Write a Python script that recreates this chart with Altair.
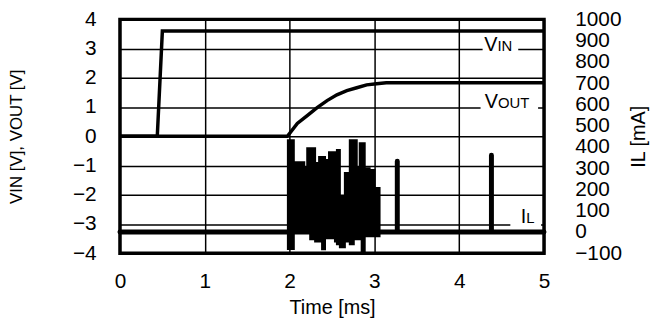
import altair as alt
import pandas as pd

# ---- data ----
vin_t = [0, 0.44, 0.50, 5]
vin_v = [0, 0, 3.6, 3.6]

vout_t = [0, 1.974, 2.091, 2.208, 2.325, 2.442, 2.558, 2.675, 2.792, 2.909, 3.026, 3.14, 5]
vout_v = [0, 0, 0.44, 0.71, 0.98, 1.22, 1.42, 1.56, 1.66, 1.76, 1.80, 1.83, 1.83]

burst_t = [1.980, 2.050, 2.126, 2.173, 2.208, 2.243, 2.301, 2.348, 2.383, 2.418, 2.465, 2.535,
           2.558, 2.593, 2.652, 2.710, 2.757, 2.792, 2.827, 2.850, 2.886, 2.944, 3.002, 3.061]
burst_top = [431, 328, 328, 305, 394, 394, 324, 352, 352, 338, 375, 375,
             385, 166, 277, 431, 431, 305, 417, 417, 300, 291, 207, 0]
burst_bot = [-80, 0, 0, 0, 0, -35, -45, -45, -82, -30, -30, -45,
             -58, -72, -45, -58, -35, -35, -35, -90, -20, -20, -20, 0]

il_t = [0, 3.27, 3.27, 3.27, 4.38, 4.38, 4.38, 5]
il_ma = [0, 0, 333, 0, 0, 361, 0, 0]

label_main = ["V", "V", "I"]
label_sub = ["IN", "OUT", "L"]
label_t = [4.451, 4.457, 4.790]
label_v = [2.915, 0.966, -2.983]

box_t1 = [4.276, 4.252, 4.603]
box_t2 = [4.696, 4.930, 4.965]
box_v1 = [3.39, 1.53, -2.37]
box_v2 = [2.85, 0.88, -3.08]

x_ticks = [0, 1, 2, 3, 4, 5]
yl_ticks = [-4, -3, -2, -1, 0, 1, 2, 3, 4]
yr_ticks = [-100, 0, 100, 200, 300, 400, 500, 600, 700, 800, 900, 1000]

FONT = "Liberation Sans"

# ---- tables ----
vin_df = pd.DataFrame({"t": vin_t, "v": vin_v})
vout_df = pd.DataFrame({"t": vout_t, "v": vout_v})
burst_df = pd.DataFrame({"t": burst_t, "top": burst_top, "bot": burst_bot})
il_df = pd.DataFrame({"t": il_t, "ma": il_ma, "i": list(range(len(il_t)))})
lab_df = pd.DataFrame({"t": label_t, "v": label_v, "main": label_main, "sub": label_sub})
box_df = pd.DataFrame({"t1": box_t1, "t2": box_t2, "v1": box_v1, "v2": box_v2})

x_axis = alt.Axis(values=x_ticks, title="Time [ms]", labelPadding=18, titlePadding=6,
                  grid=True, labelFlush=False)
x_enc = alt.X("t:Q", scale=alt.Scale(domain=[0, 5], nice=False, zero=False), axis=x_axis)

yl_scale = alt.Scale(domain=[-4, 4], nice=False, zero=False)
yl_axis = alt.Axis(values=yl_ticks, title="VIN [V], VOUT [V]", labelPadding=24,
                   titlePadding=47, titleFontSize=17, grid=True, labelFlush=False,
                   orient="left")

yr_scale = alt.Scale(domain=[-100, 1000], nice=False, zero=False)
yr_axis = alt.Axis(values=yr_ticks, format="d", title="IL [mA]", labelPadding=31,
                   labelFontSize=21, titlePadding=7, grid=False, labelFlush=False,
                   orient="right", labelOverlap=False, titleAngle=270, titleBaseline="top")

boxes = alt.Chart(box_df).mark_rect(color="white").encode(
    x=alt.X("t1:Q", scale=alt.Scale(domain=[0, 5], nice=False, zero=False), axis=x_axis),
    x2="t2:Q",
    y=alt.Y("v1:Q", scale=yl_scale, axis=yl_axis),
    y2="v2:Q",
)

vin_line = alt.Chart(vin_df).mark_line(color="black", strokeWidth=3.5).encode(
    x=x_enc, y=alt.Y("v:Q", scale=yl_scale, axis=yl_axis))
vout_line = alt.Chart(vout_df).mark_line(color="black", strokeWidth=3.5).encode(
    x=x_enc, y=alt.Y("v:Q", scale=yl_scale, axis=yl_axis))

lab_main = alt.Chart(lab_df).mark_text(font=FONT, fontSize=20, align="right",
                                       baseline="alphabetic", color="black").encode(
    x=x_enc, y=alt.Y("v:Q", scale=yl_scale, axis=yl_axis), text="main:N")
lab_sub = alt.Chart(lab_df).mark_text(font=FONT, fontSize=15, align="left",
                                      baseline="alphabetic", color="black").encode(
    x=x_enc, y=alt.Y("v:Q", scale=yl_scale, axis=yl_axis), text="sub:N")

left = alt.layer(boxes, vin_line, vout_line, lab_main, lab_sub)

burst = alt.Chart(burst_df).mark_area(color="black", interpolate="step-after", opacity=1,
                                      stroke="black", strokeWidth=2).encode(
    x=x_enc, y=alt.Y("top:Q", scale=yr_scale, axis=yr_axis), y2="bot:Q")
il_line = alt.Chart(il_df).mark_line(color="black", strokeWidth=5, strokeCap="round",
                                     strokeJoin="round").encode(
    x=x_enc, y=alt.Y("ma:Q", scale=yr_scale, axis=yr_axis), order="i:Q")

right = alt.layer(burst, il_line)

chart = alt.layer(left, right).resolve_scale(y="independent").properties(
    width=428, height=236,
    autosize=alt.AutoSizeParams(type="none"),
    padding={"left": 113, "top": 10, "right": 110, "bottom": 70},
).configure_view(
    stroke="black", strokeWidth=3.5
).configure_axis(
    labelFont=FONT, titleFont=FONT, labelFontSize=21, titleFontSize=20,
    labelColor="black", titleColor="black", titleFontWeight="normal",
    domain=False, ticks=False, tickSize=0,
    gridColor="black", gridWidth=1.5, gridOpacity=1,
)

chart.save("out.html", embed_options={"renderer": "svg", "actions": False})
